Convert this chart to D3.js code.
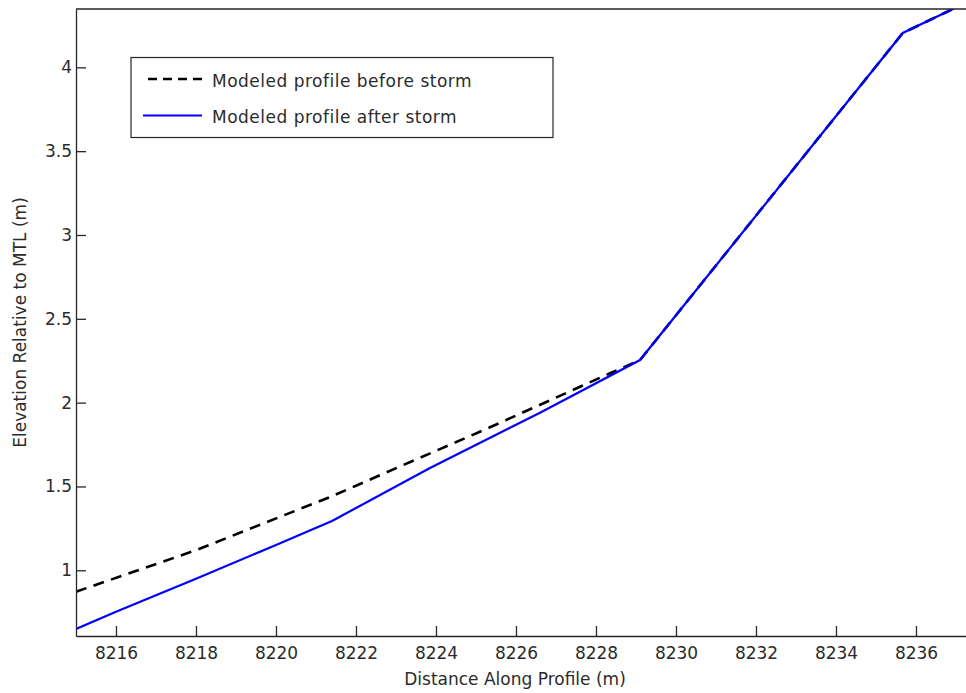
<!DOCTYPE html>
<html>
<head>
<meta charset="utf-8">
<script src="https://cdn.jsdelivr.net/npm/d3@7"></script>
<style>
  html, body { margin: 0; padding: 0; background: #fff; }
  svg { display: block; }
  text { font-family: "DejaVu Sans", sans-serif; fill: #2b2b2b; }
</style>
</head>
<body>
<svg id="chart" width="966" height="693"></svg>
<script>
// Cross-shore profile: distance along profile (m) vs elevation relative to MTL (m)
const beforeX = [8215, 8218, 8221.35, 8225.35, 8228.35, 8229.1, 8235.67, 8237.2];
const beforeY = [0.872, 1.12, 1.437, 1.853, 2.175, 2.254, 4.205, 4.38];

const afterX = [8215, 8216, 8218, 8220, 8221.4, 8223.85, 8226.6, 8229.1, 8235.67, 8237.2];
const afterY = [0.650, 0.753, 0.950, 1.151, 1.294, 1.61, 1.94, 2.254, 4.205, 4.38];

const xTicks = [8216, 8218, 8220, 8222, 8224, 8226, 8228, 8230, 8232, 8234, 8236];
const yTicks = [1, 1.5, 2, 2.5, 3, 3.5, 4];

const seriesNames = ["Modeled profile before storm", "Modeled profile after storm"];

const svg = d3.select("#chart");
const m = { left: 76, top: 9, bottom: 636, right: 976 };

const x = d3.scaleLinear().domain([8215, 8237.5]).range([m.left, m.right]);
const y = d3.scaleLinear().domain([0.608, 4.348]).range([m.bottom, m.top]);

const axisColor = "#262626";
const fontSize = "17px";

// clip region for the plotted lines
svg.append("defs").append("clipPath").attr("id", "plotClip")
  .append("rect").attr("x", m.left).attr("y", m.top)
  .attr("width", m.right - m.left).attr("height", m.bottom - m.top);

const line = d3.line().x(d => x(d[0])).y(d => y(d[1]));
const beforePts = beforeX.map((v, i) => [v, beforeY[i]]);
const afterPts = afterX.map((v, i) => [v, afterY[i]]);

const plot = svg.append("g").attr("clip-path", "url(#plotClip)");
plot.append("path").datum(beforePts).attr("d", line)
  .attr("fill", "none").attr("stroke", "#000").attr("stroke-width", 2.6)
  .attr("stroke-dasharray", "11,7.5");
plot.append("path").datum(afterPts).attr("d", line)
  .attr("fill", "none").attr("stroke", "#0000ff").attr("stroke-width", 2.2);

// axes with inward ticks
const xAxis = d3.axisBottom(x).tickValues(xTicks).tickSizeInner(-10).tickSizeOuter(0).tickPadding(11)
  .tickFormat(d3.format("d"));
const gx = svg.append("g").attr("transform", `translate(0,${m.bottom})`).call(xAxis);
gx.select(".domain").attr("stroke", axisColor).attr("stroke-width", 1.3);
gx.selectAll(".tick line").attr("stroke", axisColor).attr("stroke-width", 1.3);
gx.selectAll(".tick text").style("font-size", fontSize).attr("fill", "#2b2b2b");

const yAxis = d3.axisLeft(y).tickValues(yTicks).tickSizeInner(-10).tickSizeOuter(0).tickPadding(4)
  .tickFormat(d => String(d));
const gy = svg.append("g").attr("transform", `translate(${m.left},0)`).call(yAxis);
gy.select(".domain").attr("stroke", axisColor).attr("stroke-width", 1.3);
gy.selectAll(".tick line").attr("stroke", axisColor).attr("stroke-width", 1.3);
gy.selectAll(".tick text").style("font-size", fontSize).attr("fill", "#2b2b2b");

// top box edge
svg.append("line").attr("x1", m.left).attr("x2", m.right).attr("y1", m.top).attr("y2", m.top)
  .attr("stroke", axisColor).attr("stroke-width", 1.3);

// axis titles
svg.append("text").attr("x", 515).attr("y", 685).attr("text-anchor", "middle")
  .style("font-size", fontSize).text("Distance Along Profile (m)");
svg.append("text").attr("transform", `translate(26,${(m.top + m.bottom) / 2}) rotate(-90)`)
  .attr("text-anchor", "middle").style("font-size", fontSize).text("Elevation Relative to MTL (m)");

// legend
const lg = svg.append("g");
lg.append("rect").attr("x", 131).attr("y", 57.5).attr("width", 422).attr("height", 80)
  .attr("fill", "#fff").attr("stroke", axisColor).attr("stroke-width", 1.2);
const legendRows = [
  { name: seriesNames[0], color: "#000", dash: "9,6", width: 2.6, x1: 148, x2: 202, yy: 79 },
  { name: seriesNames[1], color: "#0000ff", dash: null, width: 2.2, x1: 143, x2: 202, yy: 115.5 }
];
legendRows.forEach(r => {
  lg.append("line").attr("x1", r.x1).attr("x2", r.x2).attr("y1", r.yy).attr("y2", r.yy)
    .attr("stroke", r.color).attr("stroke-width", r.width)
    .attr("stroke-dasharray", r.dash);
  lg.append("text").attr("x", 212).attr("y", r.yy + 7.5).style("font-size", fontSize)
    .style("letter-spacing", "0.5px").text(r.name);
});
</script>
</body>
</html>
